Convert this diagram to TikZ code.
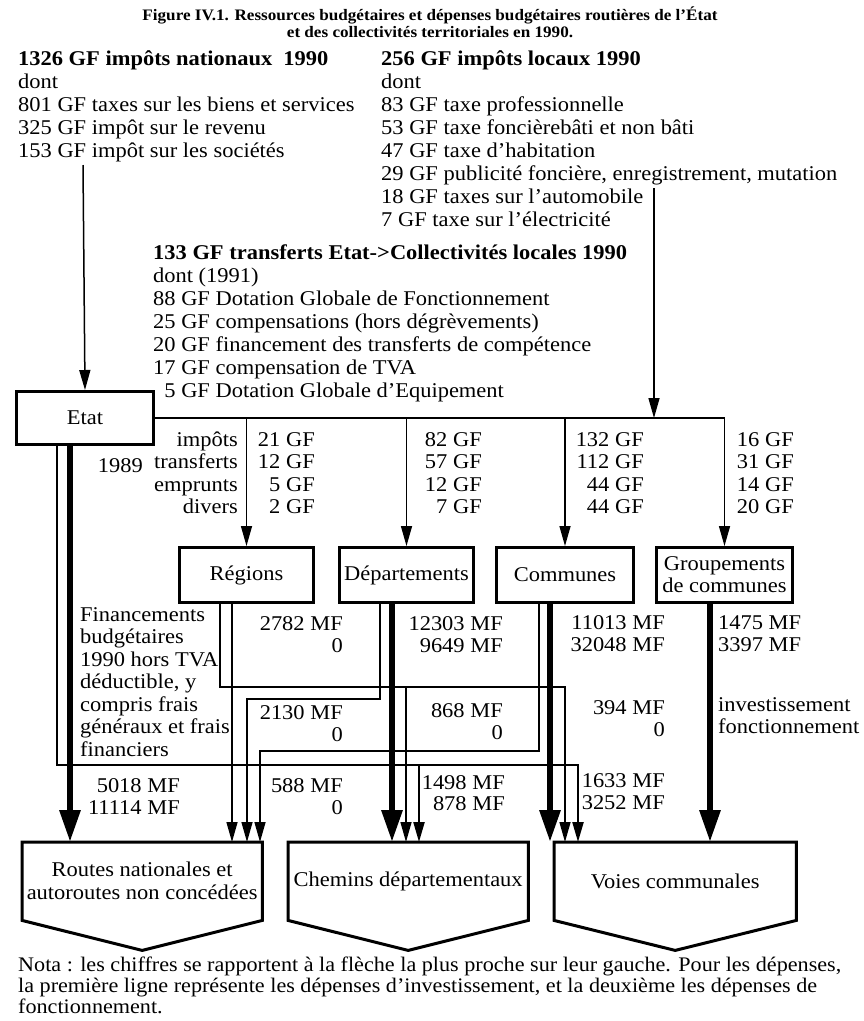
\documentclass[tikz,border=0pt]{standalone}
\usepackage{fontspec}
\setmainfont{Liberation Serif}[FakeStretch=1.07]
\usetikzlibrary{arrows.meta}
\tikzset{
  txt/.style={anchor=base west, inner sep=0pt, font=\fontsize{21}{23}\selectfont},
  txr/.style={anchor=base east, inner sep=0pt, font=\fontsize{21}{23}\selectfont},
  hd/.style={anchor=base west, inner sep=0pt, font=\fontsize{21}{23}\selectfont\bfseries},
  ttl/.style={anchor=base, inner sep=0pt, font=\fontsize{16}{18}\selectfont\bfseries},
  nota/.style={anchor=base west, inner sep=0pt, font=\fontsize{20.7}{21}\selectfont},
  box/.style={draw, line width=3pt, inner sep=0pt, anchor=north west, align=center, font=\fontsize{21}{22}\selectfont},
  dest/.style={inner sep=0pt, anchor=north west, align=center, font=\fontsize{21}{23}\selectfont},
  destline/.style={line width=3pt, line join=miter},
  fine/.style={line width=1.5pt},
  med/.style={line width=2.2pt},
  heavy/.style={line width=6pt},
  tarr/.style={-{Triangle[length=20pt 0, width=11pt 0]}},
  Tarr/.style={-{Triangle[length=32pt 0, width=20pt 0]}},
}
\begin{document}
\begin{tikzpicture}[x=1pt,y=-1pt]
\useasboundingbox[fill=white] (0,0) rectangle (864,1021);

% title
\node[ttl] (title1) at (430,20) {Figure IV.1. Ressources budgétaires et dépenses budgétaires routières de l'État};
\node[ttl] (title2) at (430,37) {et des collectivités territoriales en 1990.};

% left column
\node[hd] (h1326) at (18,65) {1326 GF impôts nationaux~~1990};
\foreach [count=\i from 0] \t in {{dont},{801 GF taxes sur les biens et services},{325 GF impôt sur le revenu},{153 GF impôt sur les sociétés}}
  \node[txt] (nat\i) at (18,88+23*\i) {\t};

% right column
\node[hd] (h256) at (381,65) {256 GF impôts locaux 1990};
\foreach [count=\i from 0] \t in {{dont},{83 GF taxe professionnelle},{53 GF taxe foncièrebâti et non bâti},{47 GF taxe d'habitation},{29 GF publicité foncière, enregistrement, mutation},{18 GF taxes sur l'automobile},{7 GF taxe sur l'électricité}}
  \node[txt] (loc\i) at (381,88+23*\i) {\t};

% middle column
\node[hd] (h133) at (153,259) {133 GF transferts Etat->Collectivités locales 1990};
\foreach [count=\i from 0] \t in {{dont (1991)},{88 GF Dotation Globale de Fonctionnement},{25 GF compensations (hors dégrèvements)},{20 GF financement des transferts de compétence},{17 GF compensation de TVA},{\phantom{1}5 GF Dotation Globale d'Equipement}}
  \node[txt] (tr\i) at (153,282+23*\i) {\t};

% boxes
\node[box, minimum width=137pt, minimum height=53pt] (etat) at (15,390) {Etat};
\node[box, minimum width=134pt, minimum height=55pt] (regions) at (178,546) {Régions};
\node[box, minimum width=134pt, minimum height=55pt] (departements) at (338,546) {Départements};
\node[box, minimum width=137pt, minimum height=55pt] (communes) at (495,546) {Communes};
\node[box, minimum width=136pt, minimum height=55pt] (groupements) at (655,546) {Groupements\\de communes};

% destination boxes
\node[dest, minimum width=240pt, minimum height=78pt] (routes) at (22,842) {Routes nationales et\\autoroutes non concédées};
\node[dest, minimum width=240pt, minimum height=78pt] (chemins) at (288,842) {Chemins départementaux};
\node[dest, minimum width=242pt, minimum height=78pt] (voies) at (554,842) {Voies communales};
\foreach \b in {routes,chemins,voies}
  \draw[destline] (\b.north west) -- (\b.north east) -- (\b.south east) -- ([yshift=-30pt]\b.south) -- (\b.south west) -- cycle;

% 1989 labels
\node[txr] (l1989) at (143,472) {1989};
\foreach [count=\i from 0] \t in {impôts,transferts,emprunts,divers}
  \node[txr] (lab\i) at (238,446+22.5*\i) {\t};
\foreach [count=\i from 0] \t in {21 GF,12 GF,5 GF,2 GF}
  \node[txr] (va\i) at (315,446+22.5*\i) {\t};
\foreach [count=\i from 0] \t in {82 GF,57 GF,12 GF,7 GF}
  \node[txr] (vb\i) at (482,446+22.5*\i) {\t};
\foreach [count=\i from 0] \t in {132 GF,112 GF,44 GF,44 GF}
  \node[txr] (vc\i) at (644,446+22.5*\i) {\t};
\foreach [count=\i from 0] \t in {16 GF,31 GF,14 GF,20 GF}
  \node[txr] (vd\i) at (794,446+22.5*\i) {\t};

% Financements text
\foreach [count=\i from 0] \t in {{Financements},{budgétaires},{1990 hors TVA},{déductible, y},{compris frais},{généraux et frais},{financiers}}
  \node[txt] (fin\i) at (80,621+22.5*\i) {\t};

% MF values
\node[txr] (m1a) at (343,630) {2782 MF};  \node[txr] (m1b) at (343,652) {0};
\node[txr] (m2a) at (343,719) {2130 MF};  \node[txr] (m2b) at (343,741) {0};
\node[txr] (m3a) at (180,792) {5018 MF};  \node[txr] (m3b) at (180,814) {11114 MF};
\node[txr] (m4a) at (343,792) {588 MF};   \node[txr] (m4b) at (343,814) {0};
\node[txr] (m5a) at (503,630) {12303 MF}; \node[txr] (m5b) at (503,652) {9649 MF};
\node[txr] (m6a) at (503,717) {868 MF};   \node[txr] (m6b) at (503,739) {0};
\node[txr] (m7a) at (505,789) {1498 MF};  \node[txr] (m7b) at (505,810) {878 MF};
\node[txr] (m8a) at (665,629) {11013 MF}; \node[txr] (m8b) at (665,651) {32048 MF};
\node[txr] (m9a) at (665,714) {394 MF};   \node[txr] (m9b) at (665,736) {0};
\node[txr] (m10a) at (665,787) {1633 MF}; \node[txr] (m10b) at (665,809) {3252 MF};
\node[txt] (m11a) at (718,629) {1475 MF}; \node[txt] (m11b) at (718,651) {3397 MF};
\node[txt] (inv) at (718,711) {investissement};
\node[txt] (fon) at (718,733) {fonctionnement};

% Nota
\node[nota] (nota1) at (18,971) {Nota : les chiffres se rapportent à la flèche la plus proche sur leur gauche. Pour les dépenses,};
\node[nota] (nota2) at (18,992) {la première ligne représente les dépenses d'investissement, et la deuxième les dépenses de};
\node[nota] (nota3) at (18,1013) {fonctionnement.};

% coordinates
\coordinate (s1326) at (83,165);
\coordinate (s256) at (654,188);
\coordinate (e1) at (57,0);   \coordinate (e2) at (70,0);
\coordinate (r1) at (220,0);  \coordinate (r2) at (232,0);
\coordinate (d1) at (380,0);  \coordinate (d2) at (392,0);
\coordinate (c1) at (539,0);  \coordinate (c2) at (550,0);
\coordinate (g1) at (710,0);
\coordinate (rt2) at (247,0); \coordinate (rt3) at (260,0);
\coordinate (ch2) at (406,0); \coordinate (ch3) at (419,0);
\coordinate (vo2) at (565,0); \coordinate (vo3) at (578,0);
\coordinate (hA) at (0,687);  \coordinate (hB) at (0,699);
\coordinate (hC) at (0,751);  \coordinate (hD) at (0,765);

% top arrows
\draw[fine,tarr] (s1326) -- (etat.north);
\draw[fine,tarr] (s256) -- (s256 |- etat.east);
\draw[med] (etat.east) -- (etat.east -| groupements.north);
\draw[fine,tarr] (etat.east -| regions.north) -- (regions.north);
\draw[fine,tarr] (etat.east -| departements.north) -- (departements.north);
\draw[fine,tarr] (etat.east -| communes.north) -- (communes.north);
\draw[fine,tarr] (etat.east -| groupements.north) -- (groupements.north);

% Etat flows
\draw[heavy,Tarr] (etat.south -| e2) -- (routes.north -| e2);
\draw[med,tarr] (etat.south -| e1) |- (vo3 |- hD) -- (voies.north -| vo3);
\draw[med,tarr] (ch3 |- hD) -- (chemins.north -| ch3);

% Regions flows
\draw[fine,tarr] (regions.south -| r2) -- (routes.north -| r2);
\draw[fine,tarr] (regions.south -| r1) |- (vo2 |- hA) -- (voies.north -| vo2);
\draw[fine,tarr] (ch2 |- hA) -- (chemins.north -| ch2);

% Departements flows
\draw[heavy,Tarr] (departements.south -| d2) -- (chemins.north -| d2);
\draw[fine,tarr] (departements.south -| d1) |- (rt2 |- hB) -- (routes.north -| rt2);

% Communes flows
\draw[heavy,Tarr] (communes.south -| c2) -- (voies.north -| c2);
\draw[fine,tarr] (communes.south -| c1) |- (rt3 |- hC) -- (routes.north -| rt3);

% Groupements flow
\draw[heavy,Tarr] (groupements.south -| g1) -- (voies.north -| g1);
\end{tikzpicture}
\end{document}
